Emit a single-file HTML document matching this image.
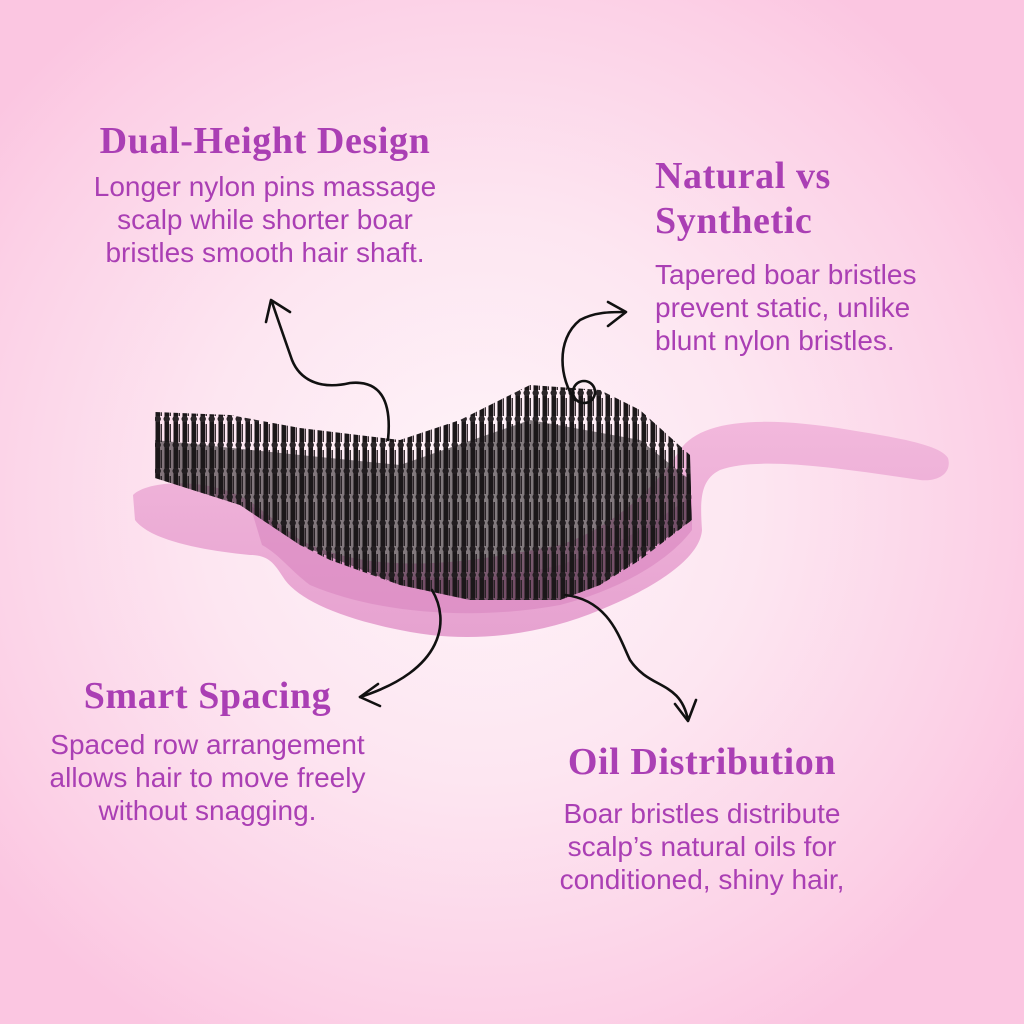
<!DOCTYPE html>
<html><head><meta charset="utf-8"><style>
html,body{margin:0;padding:0}
body{width:1024px;height:1024px;overflow:hidden;position:relative;
background:radial-gradient(ellipse 620px 620px at 480px 500px,#fef4f9 0%,#fde6f1 45%,#fcd0e6 85%,#fbc6e1 100%);
font-family:"Liberation Sans",sans-serif;color:#aa3fb4}
.h{position:absolute;font-family:"Liberation Serif",serif;font-weight:bold;font-size:38px;letter-spacing:0.6px;white-space:nowrap}
.p{position:absolute;font-size:28px;line-height:33px;white-space:nowrap}
svg{position:absolute;left:0;top:0}
</style></head><body>
<svg width="1024" height="1024">
<defs>
<linearGradient id="g" x1="0" y1="0" x2="0" y2="1"><stop offset="0" stop-color="#f2b8dc"/><stop offset="1" stop-color="#e6a2d0"/></linearGradient>
<pattern id="br" width="9" height="26" patternUnits="userSpaceOnUse">
<rect x="2.5" y="0" width="4.5" height="26" fill="#1b1719"/>
<circle cx="4.7" cy="3" r="3.2" fill="#2a2528"/>
<rect x="7.5" y="8" width="1.5" height="18" fill="#3a3035"/>
</pattern>
</defs>
<path d="M133,495 C150,478 220,478 255,505 L300,540 C380,580 480,560 560,545 C620,525 660,480 680,450 C700,420 760,415 850,430 C900,438 940,445 948,458 C952,472 940,482 920,480 C850,470 760,455 720,470 C700,480 700,500 702,530 C700,560 650,590 600,610 C540,635 470,645 400,630 C340,618 300,600 285,580 C275,565 270,555 250,555 C200,550 150,540 135,520 Z" fill="url(#g)"/>
<path d="M250,505 L300,545 C380,585 480,585 560,565 C620,545 660,520 692,495 L692,530 C670,560 620,590 560,605 C480,620 380,615 310,585 C290,570 280,555 262,545 Z" fill="#d985c0" opacity="0.6"/>
<path d="M155,412 L230,415 L300,428 L400,440 L460,420 L500,400 L530,385 L600,390 L640,410 L690,455 L692,520 L640,560 L600,585 L560,600 L470,600 L400,585 L330,560 L300,545 L240,505 L155,478 Z" fill="url(#br)"/>
<path d="M155,440 L300,455 L400,465 L530,420 L640,440 L690,480 L692,520 L600,585 L560,600 L470,600 L400,585 L300,545 L240,505 L155,478 Z" fill="#1b1719" opacity="0.55"/>
<g fill="none" stroke="#111" stroke-width="2.6" stroke-linecap="round" stroke-linejoin="round">
<path d="M388,440 C392,400 380,380 350,383 C320,390 300,380 292,360 C285,340 278,320 272,302"/>
<path d="M266,322 L271,300 L290,312"/>
<path d="M575,400 C560,380 555,340 580,320 C595,312 610,312 625,312"/>
<path d="M608,302 L626,312 L608,326"/>
<circle cx="584" cy="392" r="11"/>
<path d="M432,590 C450,620 445,670 360,697"/>
<path d="M378,684 L360,697 L380,706"/>
<path d="M565,595 C610,600 620,640 630,660 C650,690 680,680 688,720"/>
<path d="M675,704 L688,721 L696,700"/>
</g>
</svg>
<div class="h" style="left:65px;top:119px;width:400px;text-align:center">Dual-Height Design</div>
<div class="p" style="left:40px;top:170px;width:450px;text-align:center">Longer nylon pins massage<br>scalp while shorter boar<br>bristles smooth hair shaft.</div>
<div class="h" style="left:655px;top:154px">Natural vs</div>
<div class="h" style="left:655px;top:199px">Synthetic</div>
<div class="p" style="left:655px;top:258px">Tapered boar bristles<br>prevent static, unlike<br>blunt nylon bristles.</div>
<div class="h" style="left:10px;top:674px;width:395px;text-align:center">Smart Spacing</div>
<div class="p" style="left:0px;top:728px;width:415px;text-align:center">Spaced row arrangement<br>allows hair to move freely<br>without snagging.</div>
<div class="h" style="left:490px;top:740px;width:424px;text-align:center">Oil Distribution</div>
<div class="p" style="left:480px;top:797px;width:444px;text-align:center">Boar bristles distribute<br>scalp’s natural oils for<br>conditioned, shiny hair,</div>
</body></html>
